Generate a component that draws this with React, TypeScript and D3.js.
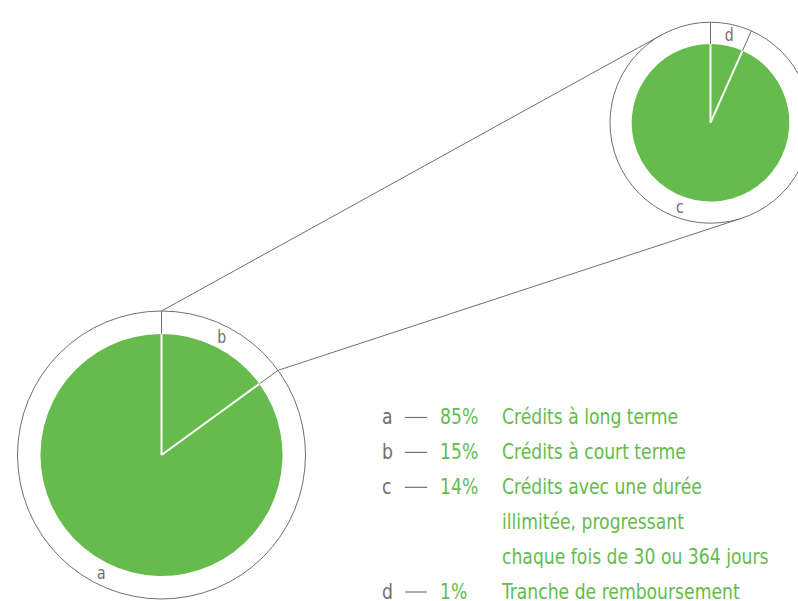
import React from 'react';
import * as d3 from 'd3';

const bigLabels = ['b', 'a'];
const bigValues = [15, 85];
const smallLabels = ['d', 'c'];
const smallValues = [1, 14];

const legendLetters = ['a', 'b', 'c', 'd'];
const legendPercents = ['85%', '15%', '14%', '1%'];
const legendTexts = [
  ['Crédits à long terme'],
  ['Crédits à court terme'],
  ['Crédits avec une durée', 'illimitée, progressant', 'chaque fois de 30 ou 364 jours'],
  ['Tranche de remboursement'],
];

const GREEN = '#65bb4c';
const GREY = '#707070';
const FONT = "'DejaVu Sans Condensed', 'DejaVu Sans', sans-serif";
const SX = 0.87;

const W = 798;
const H = 601;

const big = { cx: 161.5, cy: 455, R: 144, r: 121 };
const small = { cx: 710.5, cy: 122.7, R: 100.5, r: 78.8 };
const labelShift: Record<string, number> = { c: 8 };

function polar(c: { cx: number; cy: number }, radius: number, angle: number): [number, number] {
  return [c.cx + radius * Math.sin(angle), c.cy - radius * Math.cos(angle)];
}

function tangent(P: [number, number], C: { cx: number; cy: number; R: number }, sign: number): [number, number] {
  const dx = C.cx - P[0];
  const dy = C.cy - P[1];
  const d = Math.sqrt(dx * dx + dy * dy);
  const th = Math.atan2(dy, dx);
  const a = Math.asin(C.R / d);
  const L = Math.sqrt(d * d - C.R * C.R);
  const t = th + sign * a;
  return [P[0] + L * Math.cos(t), P[1] + L * Math.sin(t)];
}

function CText({ x, y, size, fill, anchor, baseline, children }: any) {
  return (
    <g transform={`translate(${x},${y}) scale(${SX},1)`}>
      <text x={0} y={0} fontFamily={FONT} fontSize={size} fill={fill}
        textAnchor={anchor || 'start'} dominantBaseline={baseline || 'auto'}>
        {children}
      </text>
    </g>
  );
}

function PieGroup({ geo, labels, values }: { geo: typeof big; labels: string[]; values: number[] }) {
  const arcs = d3.pie<number>().sort(null)(values);
  const fill = d3.arc<d3.PieArcDatum<number>>().innerRadius(0).outerRadius(geo.r);
  return (
    <g>
      <circle cx={geo.cx} cy={geo.cy} r={geo.R} fill="#fff" stroke={GREY} strokeWidth={1} />
      <g transform={`translate(${geo.cx},${geo.cy})`}>
        {arcs.map((a, i) => (
          <path key={i} d={fill(a) || ''} fill={GREEN} />
        ))}
      </g>
      {arcs.map((a, i) => {
        const p0 = polar(geo, 0, a.startAngle);
        const p1 = polar(geo, geo.r, a.startAngle);
        const p2 = polar(geo, geo.R, a.startAngle);
        return (
          <g key={'s' + i}>
            <line x1={p0[0]} y1={p0[1]} x2={p1[0]} y2={p1[1]} stroke="#fff" strokeWidth={2} />
            <line x1={p1[0]} y1={p1[1]} x2={p2[0]} y2={p2[1]} stroke={GREY} strokeWidth={1} />
          </g>
        );
      })}
      {arcs.map((a, i) => {
        const mid = (a.startAngle + a.endAngle) / 2 + ((labelShift[labels[i]] || 0) * Math.PI) / 180;
        const p = polar(geo, (geo.r + geo.R) / 2, mid);
        return (
          <CText key={'l' + i} x={p[0]} y={p[1]} size={18} fill={GREY} anchor="middle" baseline="central">
            {labels[i]}
          </CText>
        );
      })}
    </g>
  );
}

export default function App() {
  const bigArcs = d3.pie<number>().sort(null)(bigValues);
  const bSlice = bigArcs[0];
  const pTop = polar(big, big.R, bSlice.startAngle);
  const pEnd = polar(big, big.R, bSlice.endAngle);
  const tTop = tangent(pTop, small, -1);
  const tBot = tangent(pEnd, small, 1);

  const rowY = d3.scaleLinear().domain([0, 1]).range([424, 458.9]);
  let row = 0;
  const rows: React.ReactNode[] = [];
  legendLetters.forEach((l, i) => {
    const y0 = rowY(row);
    rows.push(
      <g key={'lg' + i}>
        <CText x={382} y={y0} size={22} fill={GREY}>{l}</CText>
        <line x1={405} x2={427} y1={y0 - 6.5} y2={y0 - 6.5} stroke={GREY} strokeWidth={1.2} />
        <CText x={440} y={y0} size={22} fill={GREEN}>{legendPercents[i]}</CText>
        {legendTexts[i].map((t, j) => (
          <CText key={j} x={502} y={rowY(row + j)} size={22} fill={GREEN}>{t}</CText>
        ))}
      </g>
    );
    row += legendTexts[i].length;
  });

  return (
    <svg width={W} height={H} style={{ position: 'absolute', left: 0, top: 0, background: '#fff' }}>
      <line x1={pTop[0]} y1={pTop[1]} x2={tTop[0]} y2={tTop[1]} stroke={GREY} strokeWidth={1} />
      <line x1={pEnd[0]} y1={pEnd[1]} x2={tBot[0]} y2={tBot[1]} stroke={GREY} strokeWidth={1} />
      <PieGroup geo={big} labels={bigLabels} values={bigValues} />
      <PieGroup geo={small} labels={smallLabels} values={smallValues} />
      {rows}
    </svg>
  );
}
